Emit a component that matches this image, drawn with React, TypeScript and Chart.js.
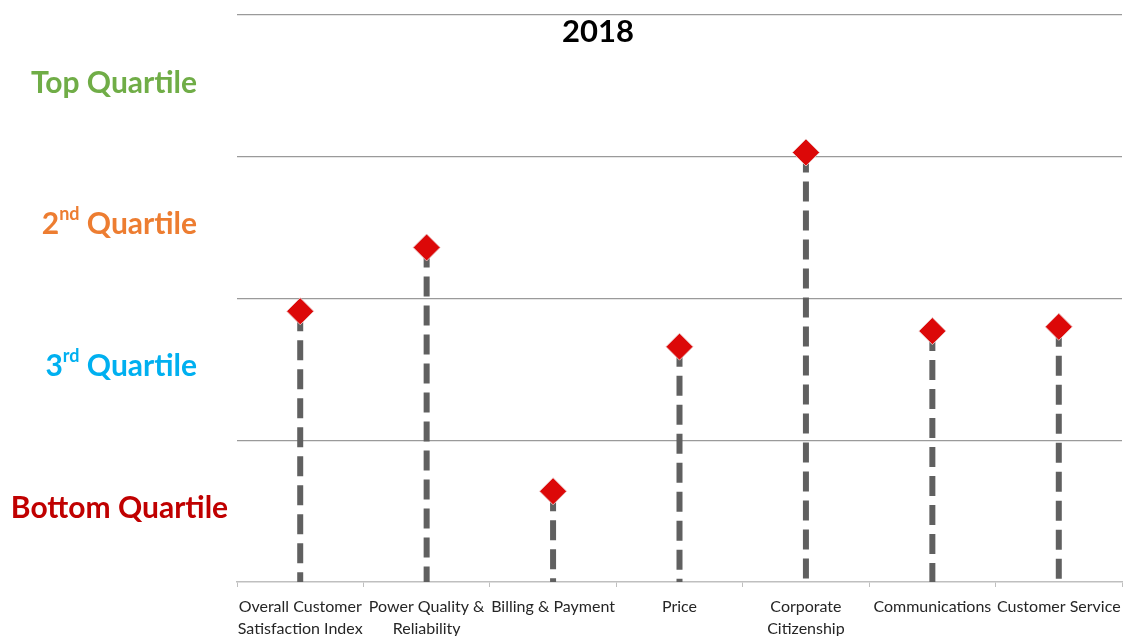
import React, { useEffect, useRef } from 'react';
import { Chart, registerables } from 'chart.js';

Chart.register(...registerables);

const chartTitle = '2018';
const categories = [
  'Overall Customer Satisfaction Index',
  'Power Quality & Reliability',
  'Billing & Payment',
  'Price',
  'Corporate Citizenship',
  'Communications',
  'Customer Service',
];
const categoryLines = [
  ['Overall Customer', 'Satisfaction Index'],
  ['Power Quality &', 'Reliability'],
  ['Billing & Payment'],
  ['Price'],
  ['Corporate', 'Citizenship'],
  ['Communications'],
  ['Customer Service'],
];
const scores = [1.91, 2.36, 0.64, 1.66, 3.03, 1.77, 1.8];
// quartile bands from bottom (0-1) to top (3-4)
const quartileLead = ['Bottom', '3', '2', 'Top'];
const quartileSup = ['', 'rd', 'nd', ''];
const quartileColors = ['#c00000', '#00b0f0', '#ed7d31', '#70ad47'];

const FONT = 'Lato, "Open Sans", sans-serif';

const labelsPlugin = {
  id: 'quartileLabels',
  afterDraw(chart: any) {
    const ctx = chart.ctx as CanvasRenderingContext2D;
    const y = chart.scales.y;
    const area = chart.chartArea;
    ctx.save();
    for (let i = 0; i < quartileLead.length; i++) {
      const py = y.getPixelForValue(i + 0.5) - 3;
      const big = `bold 30px ${FONT}`;
      const small = `bold 18px ${FONT}`;
      const lead = quartileLead[i];
      const sup = quartileSup[i];
      const rest = ' Quartile';
      ctx.font = big;
      const wLead = ctx.measureText(lead).width;
      const wRest = ctx.measureText(rest).width;
      ctx.font = small;
      const wSup = sup ? ctx.measureText(sup).width : 0;
      const total = wLead + wSup + wRest;
      let x = i === 0 ? area.left / 2 - total / 2 + 1 : area.left - 40 - total;
      ctx.fillStyle = quartileColors[i];
      ctx.textBaseline = 'middle';
      ctx.textAlign = 'left';
      ctx.font = big;
      ctx.fillText(lead, x, py);
      x += wLead;
      if (sup) {
        ctx.font = small;
        ctx.fillText(sup, x, py - 10);
        x += wSup;
      }
      ctx.font = big;
      ctx.fillText(rest, x, py);
    }
    // title
    ctx.font = `bold 31px ${FONT}`;
    ctx.fillStyle = '#000000';
    ctx.textAlign = 'center';
    ctx.textBaseline = 'middle';
    ctx.fillText(chartTitle, area.left + area.width * 0.408, 32);
    ctx.restore();
  },
};

export default function App() {
  const ref = useRef<HTMLCanvasElement | null>(null);
  useEffect(() => {
    document.body.style.margin = '0';
    const canvas = ref.current;
    if (!canvas) return;
    const stems = categories.map((c, i) => ({
      type: 'line' as const,
      data: [
        { x: c, y: scores[i] },
        { x: c, y: 0 },
      ],
      borderColor: '#606060',
      borderWidth: 6,
      borderDash: [20, 9],
      borderCapStyle: 'butt' as const,
      pointRadius: 0,
      order: 2,
    }));
    const chart = new Chart(canvas, {
      type: 'line',
      data: {
        labels: categories,
        datasets: [
          {
            data: categories.map((c, i) => ({ x: c, y: scores[i] })),
            showLine: false,
            pointStyle: 'rectRot',
            pointRadius: 13.5,
            pointBackgroundColor: '#dc0808',
            pointBorderColor: 'rgba(235,200,200,0.9)',
            pointBorderWidth: 1,
            order: 0,
          } as any,
          ...stems,
        ],
      },
      options: {
        responsive: false,
        animation: false,
        devicePixelRatio: 1,
        layout: { autoPadding: false, padding: { top: 15, right: 3, left: 0, bottom: 0 } },
        plugins: {
          legend: { display: false },
          tooltip: { enabled: false },
          title: { display: false },
        },
        scales: {
          x: {
            type: 'category',
            offset: true,
            grid: {
              offset: true,
              drawOnChartArea: false,
              drawTicks: true,
              tickLength: 5,
              color: '#bfbfbf',
            },
            border: { display: true, color: '#bfbfbf', width: 1.5 },
            ticks: {
              autoSkip: false,
              maxRotation: 0,
              minRotation: 0,
              padding: 9,
              color: '#262626',
              font: { family: FONT, size: 16, lineHeight: 1.375 },
              callback: (_v: any, idx: number) => categoryLines[idx],
            },
            afterFit: (s: any) => {
              s.height = 54;
              s.paddingLeft = 0;
              s.paddingRight = 0;
            },
          },
          y: {
            min: 0,
            max: 4,
            ticks: { display: false, stepSize: 1 },
            grid: {
              drawTicks: false,
              color: (c: any) => (c.tick && c.tick.value === 0 ? 'rgba(0,0,0,0)' : '#9a9a9a'),
              lineWidth: 1.2,
            },
            border: { display: false },
            afterFit: (s: any) => {
              s.width = 237;
              s.paddingTop = 0;
              s.paddingBottom = 0;
            },
          },
        },
      },
      plugins: [labelsPlugin],
    });
    return () => chart.destroy();
  }, []);
  return <canvas ref={ref} width={1125} height={636} style={{ display: 'block' }} />;
}
